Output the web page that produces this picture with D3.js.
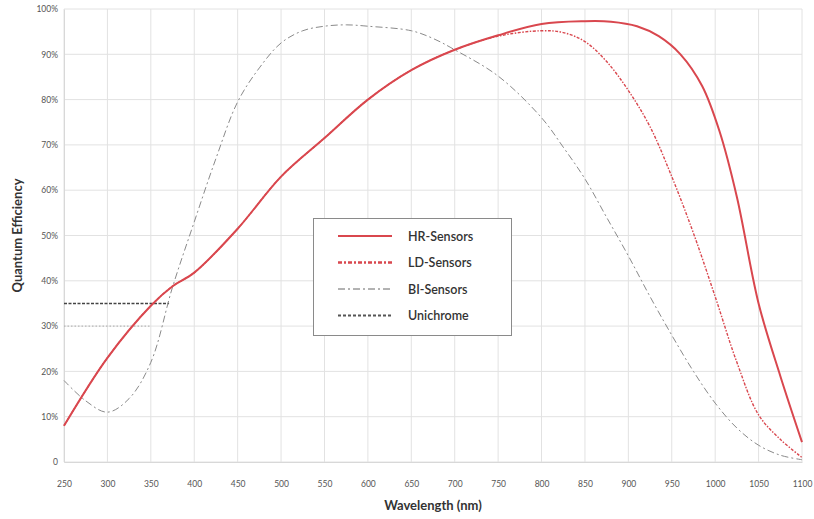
<!DOCTYPE html>
<html>
<head>
<meta charset="utf-8">
<script src="https://cdn.jsdelivr.net/npm/d3@7"></script>
<style>
  body { margin: 0; background: #fff; }
  svg { font-family: Lato, "Open Sans", sans-serif; }
</style>
</head>
<body>
<div id="chart"></div>
<script>
// wavelengths (nm) and quantum efficiency (%)
const hrWave = [250, 300, 350, 375, 400, 450, 500, 550, 600, 650, 700, 750, 800, 850, 880, 910, 935, 960, 985, 1005, 1025, 1050, 1075, 1100];
const hrQE   = [8, 23, 34.5, 38.8, 41.8, 51.5, 63, 71.5, 80, 86.5, 91, 94.2, 96.7, 97.3, 97.2, 96.2, 94, 90, 83, 73, 58.5, 35, 19, 4.4];

const ldWave = [250, 300, 350, 375, 400, 450, 500, 550, 600, 650, 700, 750, 800, 825, 850, 875, 900, 925, 950, 975, 1000, 1025, 1050, 1075, 1100];
const ldQE   = [8, 23, 34.5, 38.8, 41.8, 51.5, 63, 71.5, 80, 86.5, 91, 94, 95.2, 94.8, 92.8, 88.4, 82, 74, 63, 50.5, 36.5, 22, 10.4, 5, 1];

const biWave = [250, 275, 300, 325, 350, 375, 400, 425, 450, 475, 500, 525, 550, 575, 600, 650, 675, 700, 750, 800, 825, 850, 875, 900, 925, 950, 975, 1000, 1025, 1050, 1075, 1100];
const biQE   = [18, 13.5, 11, 14, 22, 38.6, 53, 67, 79.5, 87, 92.5, 95.2, 96.2, 96.5, 96.2, 95.2, 93.5, 91, 85.2, 76, 69.5, 62.5, 54, 45.5, 36.5, 28, 20, 13, 7.5, 3.7, 1.5, 0.5];

const uniWave = [250, 371];
const uniQE   = [35, 35];
const uni2Wave = [250, 350];
const uni2QE   = [30, 30];

const xTicks = [250, 300, 350, 400, 450, 500, 550, 600, 650, 700, 750, 800, 850, 900, 950, 1000, 1050, 1100];
const yTicks = [0, 10, 20, 30, 40, 50, 60, 70, 80, 90, 100];

const legendNames = ["HR-Sensors", "LD-Sensors", "BI-Sensors", "Unichrome"];

const red = "#d9474e";
const width = 814, height = 519;
const margin = {top: 9, right: 12, bottom: 57, left: 64};

const svg = d3.select("#chart").append("svg")
    .attr("width", width)
    .attr("height", height);

const x = d3.scaleLinear().domain([250, 1100]).range([margin.left, width - margin.right]);
const y = d3.scaleLinear().domain([0, 100]).range([height - margin.bottom, margin.top]);

// grid
svg.append("g").selectAll("line").data(xTicks).join("line")
    .attr("x1", d => x(d)).attr("x2", d => x(d))
    .attr("y1", y(0)).attr("y2", y(100))
    .attr("stroke", "#e2e2e2").attr("stroke-width", 1);
svg.append("g").selectAll("line").data(yTicks).join("line")
    .attr("x1", x(250)).attr("x2", x(1100))
    .attr("y1", d => y(d)).attr("y2", d => y(d))
    .attr("stroke", "#e2e2e2").attr("stroke-width", 1);

// axes (labels only, lines come from the grid)
const xAxis = svg.append("g")
    .attr("transform", `translate(0,${y(0)})`)
    .call(d3.axisBottom(x).tickValues(xTicks).tickSize(0).tickPadding(19).tickFormat(d3.format("d")));
const yAxis = svg.append("g")
    .attr("transform", `translate(${x(250)},0)`)
    .call(d3.axisLeft(y).tickValues(yTicks).tickSize(0).tickPadding(6)
        .tickFormat(d => d === 0 ? "0" : d + "%"));
[xAxis, yAxis].forEach(a => {
    a.select(".domain").attr("stroke", "#d8d8d8");
    a.selectAll("text").attr("fill", "#555").attr("font-size", 8.5)
        .attr("font-family", "Lato, sans-serif");
});

// lines
const line = d3.line()
    .x(d => x(d[0]))
    .y(d => y(d[1]))
    .curve(d3.curveCatmullRom.alpha(0.5));

const series = [
    {w: uni2Wave, v: uni2QE, color: "#aaa", width: 1, dash: "1.5,2"},
    {w: uniWave, v: uniQE, color: "#444", width: 1.6, dash: "3,1.5"},
    {w: biWave, v: biQE, color: "#8a8a8a", width: 1, dash: "7,3,2,3"},
    {w: ldWave, v: ldQE, color: red, width: 1.4, dash: "3,1.5,1.5,1.5"},
    {w: hrWave, v: hrQE, color: red, width: 2, dash: null}
];

series.forEach(s => {
    svg.append("path")
        .datum(s.w.map((d, i) => [d, s.v[i]]))
        .attr("d", line)
        .attr("fill", "none")
        .attr("stroke", s.color)
        .attr("stroke-width", s.width)
        .attr("stroke-dasharray", s.dash);
});

// legend
const legendStyles = [
    {color: red, width: 2, dash: null},
    {color: red, width: 2.5, dash: "4,2,2,2"},
    {color: "#666", width: 1, dash: "7,3,2,3"},
    {color: "#555", width: 2.2, dash: "3,2"}
];
const lg = svg.append("g");
lg.append("rect")
    .attr("x", 313.5).attr("y", 218.5)
    .attr("width", 198).attr("height", 117)
    .attr("fill", "#fff").attr("stroke", "#8a8a8a").attr("stroke-width", 1);
legendNames.forEach((name, i) => {
    const ly = 236 + i * 26.5;
    lg.append("line")
        .attr("x1", 338).attr("x2", 392)
        .attr("y1", ly).attr("y2", ly)
        .attr("stroke", legendStyles[i].color)
        .attr("stroke-width", legendStyles[i].width)
        .attr("stroke-dasharray", legendStyles[i].dash);
    lg.append("text")
        .attr("x", 408).attr("y", ly + 4.5)
        .attr("font-size", 12.5)
        .attr("font-weight", 600)
        .attr("fill", "#333")
        .text(name);
});

// axis titles
svg.append("text")
    .attr("x", (x(250) + x(1100)) / 2)
    .attr("y", 510)
    .attr("text-anchor", "middle")
    .attr("font-size", 13)
    .attr("font-weight", 700)
    .attr("fill", "#333")
    .text("Wavelength (nm)");

svg.append("text")
    .attr("transform", `translate(22,${(y(0) + y(100)) / 2}) rotate(-90)`)
    .attr("text-anchor", "middle")
    .attr("font-size", 13)
    .attr("font-weight", 700)
    .attr("fill", "#333")
    .text("Quantum Efficiency");
</script>
</body>
</html>
